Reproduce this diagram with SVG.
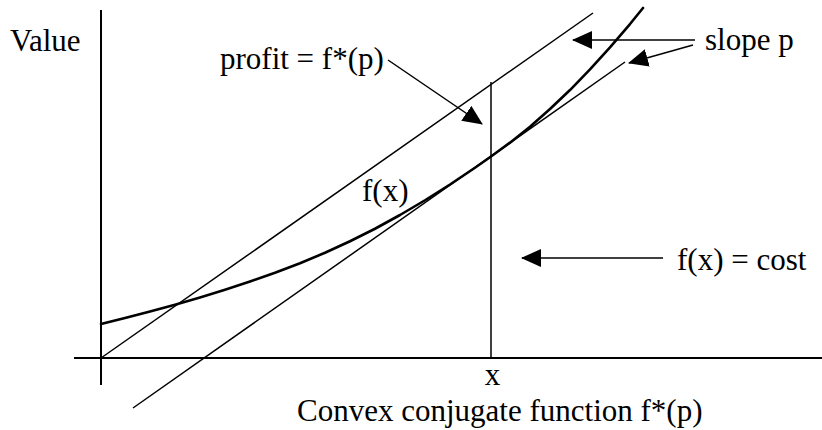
<svg xmlns="http://www.w3.org/2000/svg" width="822" height="430" viewBox="0 0 822 430">
<style>
text{font-family:"Liberation Serif","Times New Roman",serif;font-size:31px;fill:#000}
.ax{stroke:#000;stroke-width:2;fill:none}
.ln{stroke:#000;stroke-width:1.5;fill:none}
.cv{stroke:#000;stroke-width:2.6;fill:none;stroke-linejoin:round;stroke-linecap:round}
.ar{stroke:#000;stroke-width:1.5;fill:none;marker-end:url(#ah)}
</style>
<defs>
<marker id="ah" viewBox="0 0 20 18" refX="19" refY="9" markerWidth="20" markerHeight="18" markerUnits="userSpaceOnUse" orient="auto">
<path d="M0,0 L20,9 L0,18 z" fill="#000"/>
</marker>
</defs>
<rect width="822" height="430" fill="#fff"/>
<g id="axes">
<line class="ax" x1="101" y1="10" x2="101" y2="385"/>
<line class="ax" x1="74" y1="358" x2="822" y2="358"/>
</g>
<g id="lines">
<line class="ln" x1="101" y1="358" x2="593" y2="13"/>
<line class="ln" x1="133" y1="408" x2="625" y2="62"/>
<line class="ln" x1="491" y1="82" x2="491" y2="358"/>
</g>
<g id="curve">
<path class="cv" d="M101,324 L125,318 L150,311.5 L175,304.75 L200,297.5 L225,289.75 L250,281.5 L275,272.75 L300,263.25 L325,252.75 L350,241.25 L375,228.75 L400,215 L425,200.25 L450,184.5 L475,167.75 L491,156.55 L510,142.65 L530,126.65 L550,109.05 L570,90.05 L590,69.45 L610,47.45 L630,24.05 L643,8"/>
</g>
<g id="label-value"><text x="10" y="51">Value</text></g>
<g id="label-profit"><text x="220" y="68.5">profit = f*(p)</text></g>
<g id="label-slope"><text x="705" y="50">slope p</text></g>
<g id="label-fx"><text x="362" y="201">f(x)</text></g>
<g id="label-cost"><text x="677" y="270">f(x) = cost</text></g>
<g id="label-x"><text x="492.5" y="385" text-anchor="middle">x</text></g>
<g id="label-title"><text x="297" y="421">Convex conjugate function f*(p)</text></g>
<g id="connectors">
<line class="ar" x1="388" y1="60" x2="482" y2="124"/>
<line class="ar" x1="695" y1="40" x2="573" y2="40"/>
<line class="ar" x1="693" y1="45" x2="629" y2="63"/>
<line class="ar" x1="663" y1="258" x2="522" y2="258"/>
</g>
</svg>
